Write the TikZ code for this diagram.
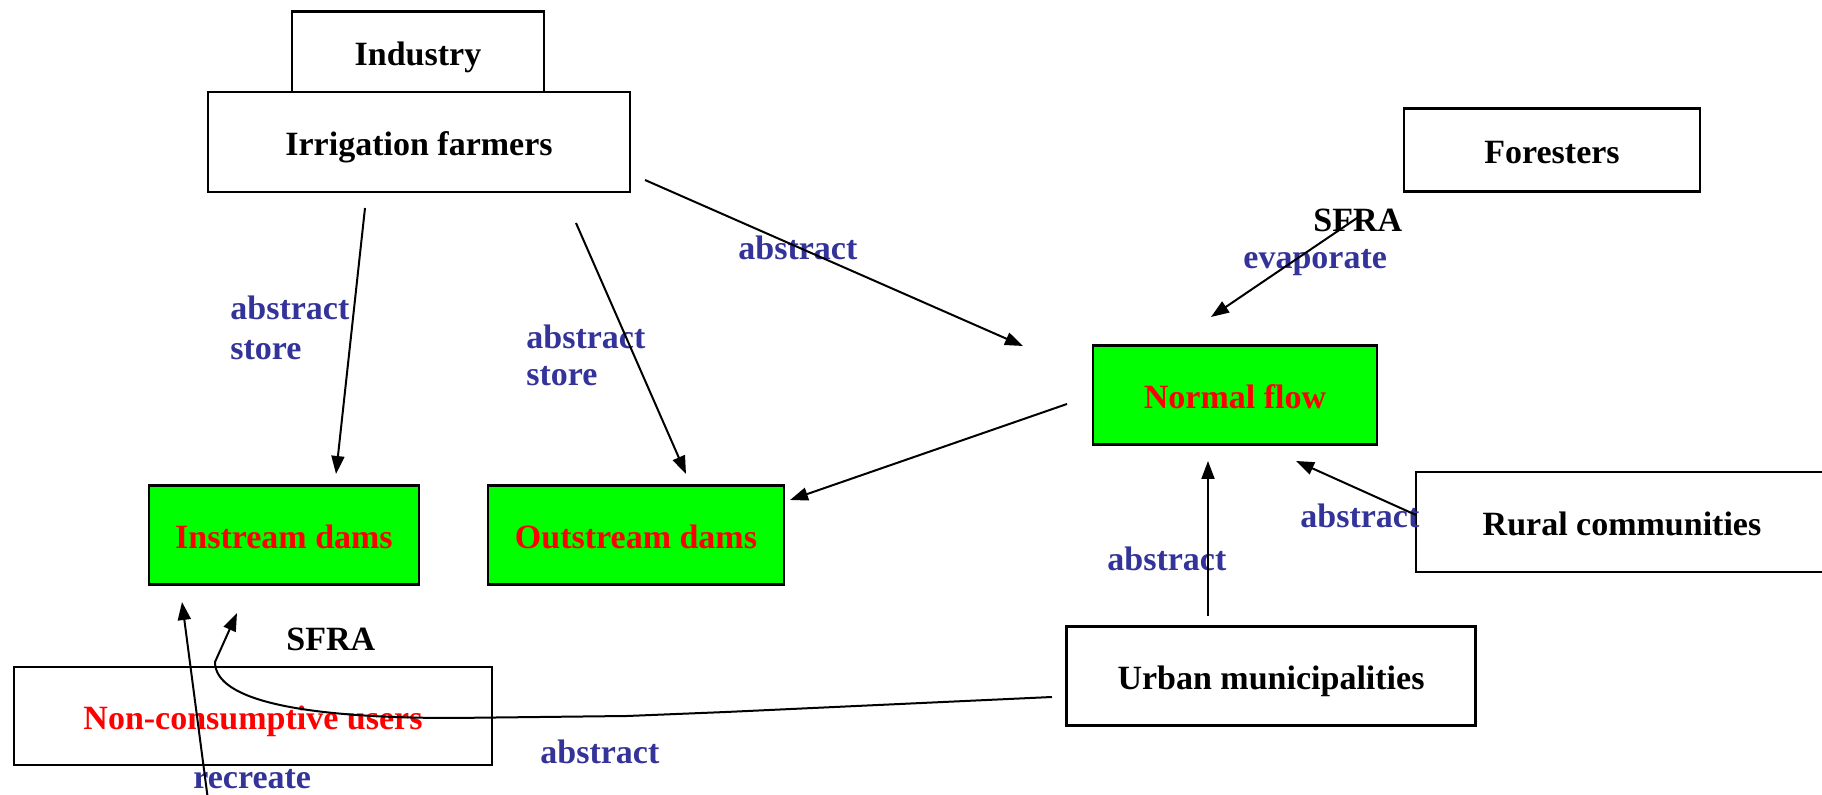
\documentclass[tikz,border=0pt]{standalone}
\usepackage{fontspec}
\setmainfont{Liberation Serif}
\usetikzlibrary{arrows.meta}
\definecolor{lblue}{HTML}{333399}
\definecolor{lgreen}{HTML}{00FF00}
\definecolor{lred}{HTML}{FF0000}
\begin{document}
\begin{tikzpicture}[x=0.5pt,y=-0.5pt,
  every node/.style={font=\fontsize{17}{20}\selectfont\bfseries},
  boxbase/.style={draw=black,line width=1.3pt,inner sep=0pt,text height=14pt,text depth=0pt},
  whitebox/.style={boxbase,fill=white},
  greenbox/.style={boxbase,fill=lgreen,text=lred},
  redbox/.style={boxbase,fill=white,text=lred},
  lbl/.style={text=lblue,anchor=west,inner sep=0pt},
  blk/.style={text=black,anchor=west,inner sep=0pt},
  arr/.style={line width=1pt,-{Triangle[length=9pt,width=6.5pt]}}]
\useasboundingbox (0,0) rectangle (1822,795);
% boxes
\node[whitebox,minimum width=126pt,minimum height=40.5pt] (ind) at (418,52) {Industry};
\node[whitebox,minimum width=211pt,minimum height=50pt] (irr) at (419,142) {Irrigation farmers};
\node[whitebox,minimum width=148pt,minimum height=41.5pt] (for) at (1552,150) {Foresters};
\node[greenbox,minimum width=142pt,minimum height=49.5pt] (nf) at (1235,395) {Normal flow};
\node[greenbox,minimum width=135pt,minimum height=49.5pt] (ins) at (284,535) {Instream dams};
\node[greenbox,minimum width=148pt,minimum height=49.5pt] (out) at (636,535) {Outstream dams};
\node[whitebox,minimum width=206pt,minimum height=50pt] (rur) at (1622,522) {Rural communities};
\node[whitebox,minimum width=204.5pt,minimum height=49.5pt] (urb) at (1271,676) {Urban municipalities};
\node[redbox,minimum width=239pt,minimum height=49pt] (non) at (253,716) {Non-consumptive users};
% labels
\node[lbl] (l1) at (230,308) {abstract};
\node[lbl] (l2) at (230,350) {store};
\node[lbl] (l3) at (526,337) {abstract};
\node[lbl] (l4) at (526,376) {store};
\node[lbl] (l5) at (738,248) {abstract};
\node[blk] (s1) at (1313,220) {SFRA};
\node[lbl] (l6) at (1243,263) {evaporate};
\node[lbl] (l7) at (1300,516) {abstract};
\node[lbl] (l8) at (1107,559) {abstract};
\node[blk] (s2) at (286,639) {SFRA};
\node[lbl] (l9) at (540,752) {abstract};
\node[lbl] (l10) at (193,779) {recreate};
% connector end points
\coordinate (a1s) at (365,208);
\coordinate (a1e) at (336,474);
\coordinate (a2s) at (576,223);
\coordinate (a2e) at (686,474);
\coordinate (a3s) at (645,180);
\coordinate (a3e) at (1023,346);
\coordinate (a4s) at (1067,404);
\coordinate (a4e) at (790,500);
\coordinate (a5s) at (1360,216);
\coordinate (a5e) at (1211,317);
\coordinate (a6s) at (1208,616);
\coordinate (a6e) at (1208,461);
\coordinate (a7s) at (1416,515);
\coordinate (a7e) at (1296,461);
\coordinate (a8s) at (208,800);
\coordinate (a8e) at (182,602);
\coordinate (c1) at (1052,697);
\coordinate (c2) at (726,712);
\coordinate (c3) at (627,716);
\coordinate (c4) at (453,718);
\coordinate (c5) at (237,613);
% connectors
\draw[arr] (a1s) -- (a1e);
\draw[arr] (a2s) -- (a2e);
\draw[arr] (a3s) -- (a3e);
\draw[arr] (a4s) -- (a4e);
\draw[arr] (a5s) -- (a5e);
\draw[arr] (a6s) -- (a6e);
\draw[arr] (a7s) -- (a7e);
\draw[arr] (a8s) -- (a8e);
\draw[arr] (c1) -- (c2) -- (c3) -- (c4) .. controls (300,718) and (215,700) .. (215,662) -- (c5);
\end{tikzpicture}
\end{document}
